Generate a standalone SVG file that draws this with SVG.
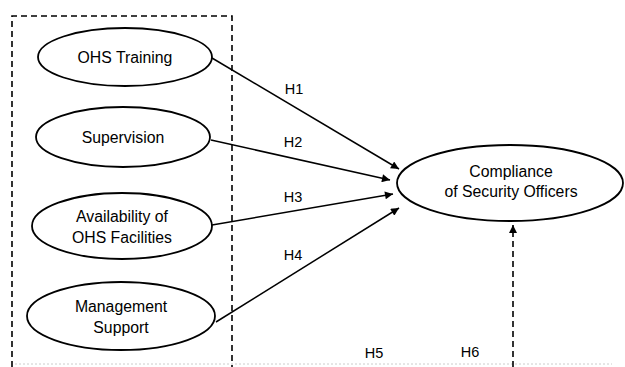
<svg xmlns="http://www.w3.org/2000/svg" width="625" height="367" viewBox="0 0 625 367">
<style>
.node ellipse{fill:#fff;stroke:#000;stroke-width:1.8}
text{font-family:"Liberation Sans",Arial,sans-serif;font-size:15.8px;fill:#000;text-anchor:middle}
.lbl{font-size:14.5px}
.edge{stroke:#000;stroke-width:1.5;fill:none}
.dash{stroke:#000;stroke-width:1.6;fill:none;stroke-dasharray:6 4}
</style>
<defs>
<marker id="ah" viewBox="0 0 10 10" refX="10" refY="5" markerWidth="10" markerHeight="8" markerUnits="userSpaceOnUse" orient="auto">
<path d="M0,0 L10,5 L0,10 z" fill="#000"/>
</marker>
</defs>
<rect width="625" height="367" fill="#fff"/>
<g id="group-box">
<path class="dash" d="M12,367 L12,16 L232,16 L232,367"/>
<line x1="15" y1="364" x2="612" y2="364" stroke="#ccc" stroke-width="1" stroke-dasharray="2 2"/>
</g>
<g id="connectors">
<line class="edge" x1="212" y1="58" x2="399" y2="169" marker-end="url(#ah)"/>
<line class="edge" x1="211" y1="140" x2="390" y2="180" marker-end="url(#ah)"/>
<line class="edge" x1="212" y1="225" x2="393" y2="194" marker-end="url(#ah)"/>
<line class="edge" x1="216" y1="322" x2="399" y2="208" marker-end="url(#ah)"/>
<line class="dash" x1="513" y1="367" x2="513" y2="225" marker-end="url(#ah)"/>
<text class="lbl" x="294" y="94">H1</text>
<text class="lbl" x="293" y="147">H2</text>
<text class="lbl" x="293" y="202">H3</text>
<text class="lbl" x="293" y="260">H4</text>
<text class="lbl" x="374" y="358">H5</text>
<text class="lbl" x="470" y="357">H6</text>
</g>
<g id="ohs-training" class="node">
<ellipse cx="125" cy="57" rx="87" ry="29"/>
<text x="125" y="63">OHS Training</text>
</g>
<g id="supervision" class="node">
<ellipse cx="123" cy="137" rx="87" ry="30"/>
<text x="123" y="143">Supervision</text>
</g>
<g id="availability" class="node">
<ellipse cx="122" cy="226" rx="90" ry="33"/>
<text x="122" y="222">Availability of</text>
<text x="122" y="243">OHS Facilities</text>
</g>
<g id="management" class="node">
<ellipse cx="121" cy="316" rx="94" ry="34"/>
<text x="121" y="312">Management</text>
<text x="121" y="333">Support</text>
</g>
<g id="compliance" class="node">
<ellipse cx="510" cy="183" rx="113" ry="38"/>
<text x="511" y="177">Compliance</text>
<text x="511" y="197">of Security Officers</text>
</g>
</svg>
